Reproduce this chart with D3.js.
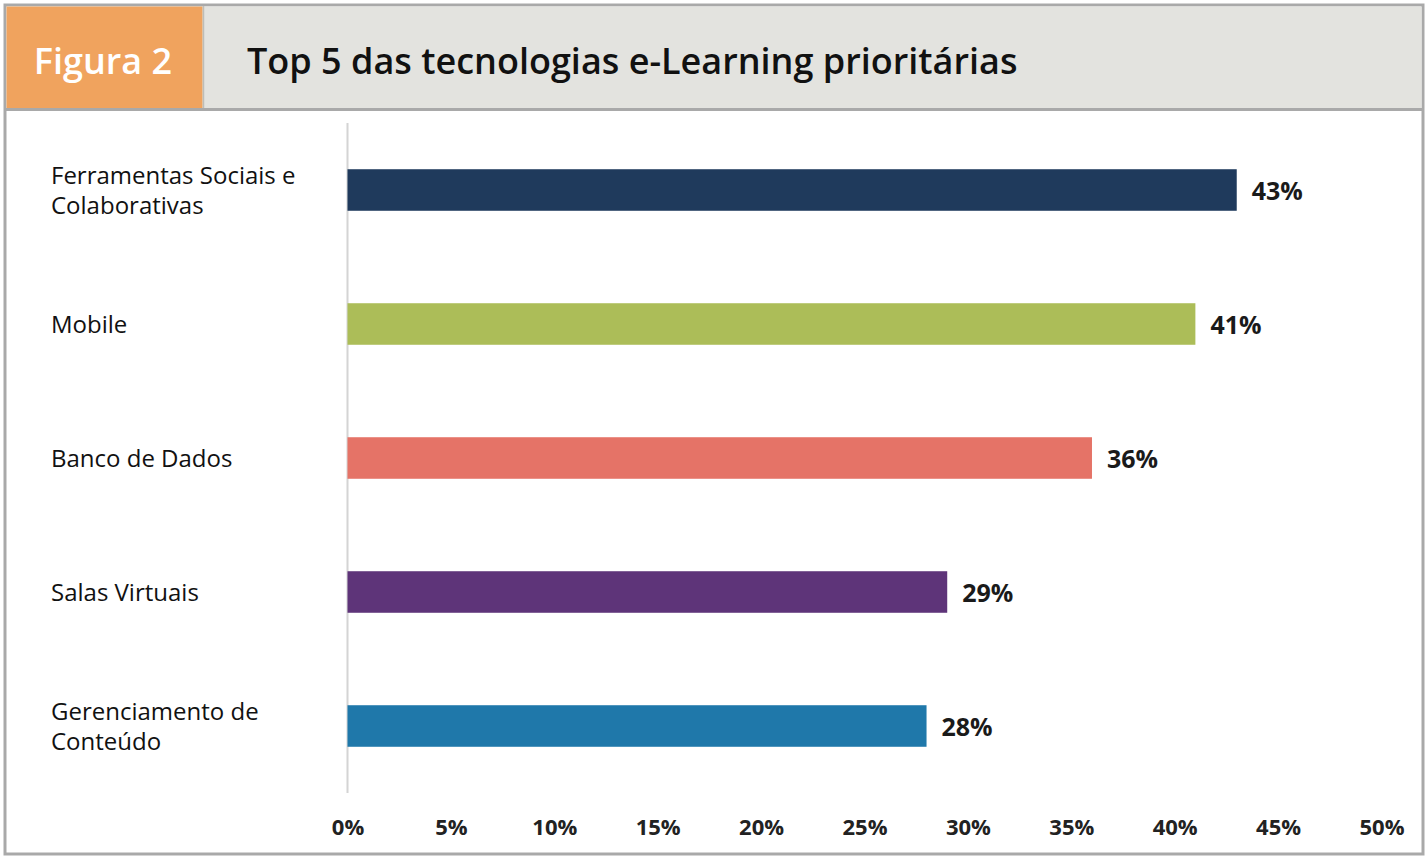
<!DOCTYPE html>
<html>
<head>
<meta charset="utf-8">
<script src="https://cdn.jsdelivr.net/npm/d3@7"></script>
<style>
  html, body { margin: 0; padding: 0; background: #ffffff; }
  svg { display: block; }
</style>
</head>
<body>
<svg id="chart" width="1428" height="860"></svg>
<script>
const categories = [
  ["Ferramentas Sociais e", "Colaborativas"],
  ["Mobile"],
  ["Banco de Dados"],
  ["Salas Virtuais"],
  ["Gerenciamento de", "Conteúdo"]
];
const values = [43, 41, 36, 29, 28];
const barColors = ["#1f3a5c", "#acbd58", "#e57367", "#5e3479", "#1f78aa"];
const tickValues = [0, 5, 10, 15, 20, 25, 30, 35, 40, 45, 50];
const figureLabel = "Figura 2";
const title = "Top 5 das tecnologias e-Learning prioritárias";

const svg = d3.select("#chart");
const font = "'Open Sans', 'Noto Sans', sans-serif";

// frame
svg.append("rect").attr("x", 5).attr("y", 5).attr("width", 1418).attr("height", 849)
  .attr("fill", "#ffffff").attr("stroke", "#a9a9a9").attr("stroke-width", 3);
// header
svg.append("rect").attr("x", 6.5).attr("y", 6.5).attr("width", 1415).attr("height", 102)
  .attr("fill", "#e3e3df");
svg.append("rect").attr("x", 6.5).attr("y", 6.5).attr("width", 196).attr("height", 102)
  .attr("fill", "#f0a35e");
svg.append("line").attr("x1", 5).attr("x2", 1423).attr("y1", 109.5).attr("y2", 109.5)
  .attr("stroke", "#a9a9a9").attr("stroke-width", 3);
svg.append("line").attr("x1", 203.5).attr("x2", 203.5).attr("y1", 6).attr("y2", 108)
  .attr("stroke", "#bdbdb8").attr("stroke-width", 1.5);

svg.append("text").attr("x", 103).attr("y", 60).attr("text-anchor", "middle")
  .attr("dominant-baseline", "central")
  .style("font-family", font).style("font-size", "36px").style("font-weight", 600)
  .attr("fill", "#ffffff").text(figureLabel);
svg.append("text").attr("x", 247).attr("y", 60)
  .attr("dominant-baseline", "central")
  .style("font-family", font).style("font-size", "36px").style("font-weight", 600)
  .attr("fill", "#111111").text(title);

// scales
const x = d3.scaleLinear().domain([0, 50]).range([347.5, 1381.5]);
const y = d3.scaleBand().domain(d3.range(categories.length)).range([123, 793])
  .paddingInner(0.69).paddingOuter(0.345);

// axis line
svg.append("line").attr("x1", x(0)).attr("x2", x(0)).attr("y1", 123).attr("y2", 793)
  .attr("stroke", "#d4d4d4").attr("stroke-width", 2);

// x axis labels
const xAxis = d3.axisBottom(x).tickValues(tickValues).tickSize(0).tickFormat(d => d + "%");
const gx = svg.append("g").attr("transform", "translate(0,816)").call(xAxis);
gx.select(".domain").remove();
gx.selectAll("text").style("font-family", font).style("font-size", "22px")
  .style("font-weight", 700).attr("fill", "#222222");

// bars
svg.selectAll("rect.bar").data(values).join("rect").attr("class", "bar")
  .attr("x", x(0)).attr("y", (d, i) => y(i))
  .attr("width", d => x(d) - x(0)).attr("height", y.bandwidth())
  .attr("fill", (d, i) => barColors[i]);

// value labels
svg.selectAll("text.val").data(values).join("text").attr("class", "val")
  .attr("x", d => x(d) + 15).attr("y", (d, i) => y(i) + y.bandwidth() / 2)
  .attr("dominant-baseline", "central")
  .style("font-family", font).style("font-size", "25px").style("font-weight", 700)
  .attr("fill", "#1a1a1a").text(d => d + "%");

// category labels
const lineH = 30;
categories.forEach((lines, i) => {
  const cy = y(i) + y.bandwidth() / 2 - 1;
  const t = svg.append("text").attr("x", 51)
    .style("font-family", font).style("font-size", "24px").attr("fill", "#111111");
  lines.forEach((ln, j) => {
    t.append("tspan").attr("x", 51)
      .attr("y", cy + (j - (lines.length - 1) / 2) * lineH)
      .attr("dominant-baseline", "central").text(ln);
  });
});
</script>
</body>
</html>
